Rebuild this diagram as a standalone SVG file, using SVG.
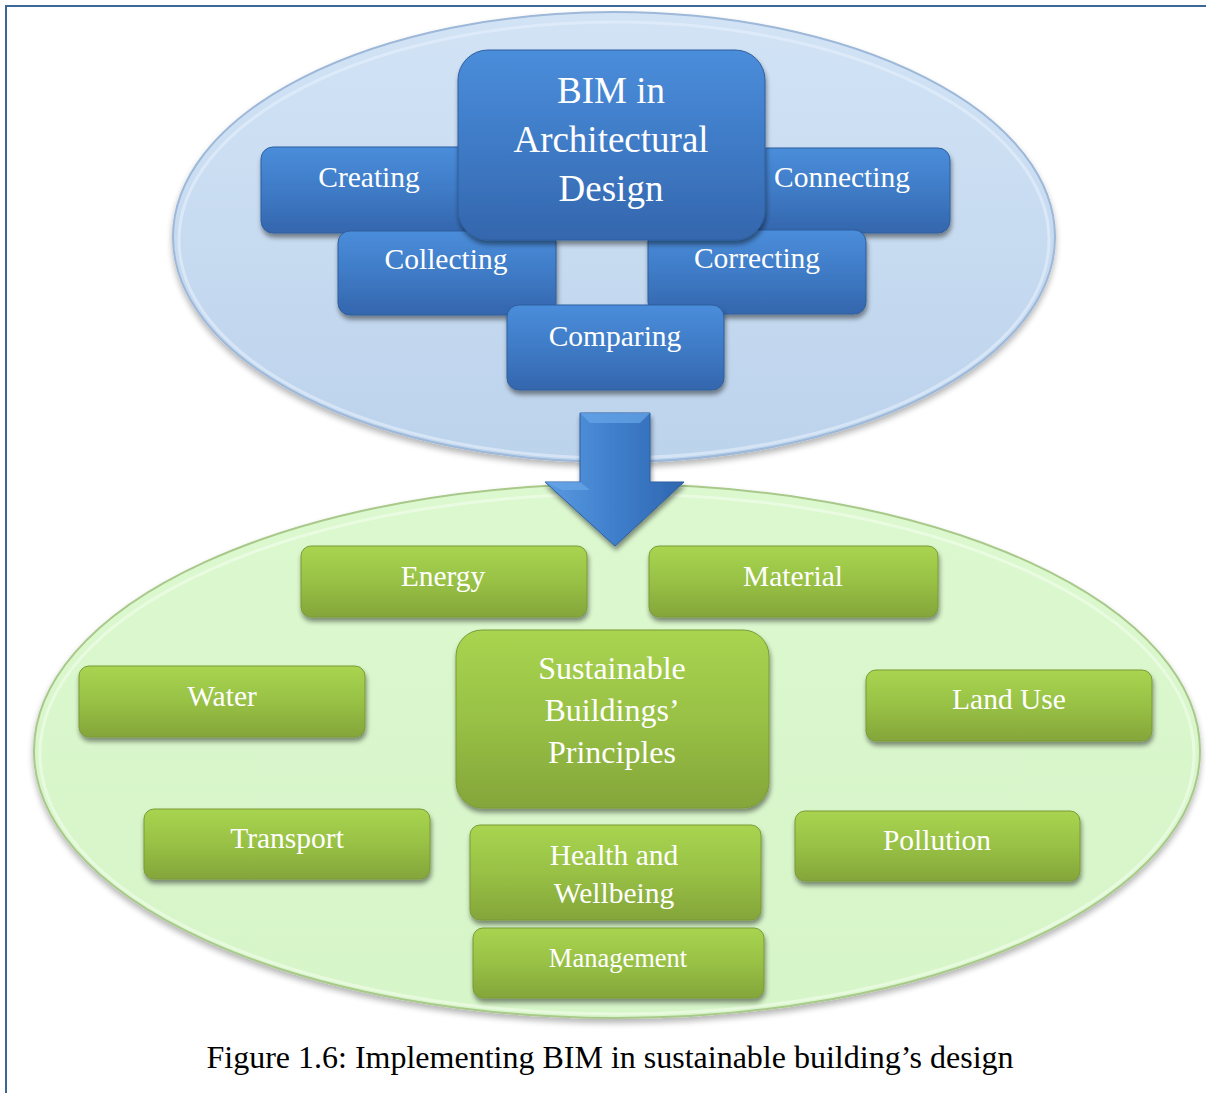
<svg xmlns="http://www.w3.org/2000/svg" width="1206" height="1093" viewBox="0 0 1206 1093">
<defs>
<linearGradient id="gBlue" x1="0" y1="0" x2="0" y2="1">
<stop offset="0" stop-color="#4a8ddb"/><stop offset="0.5" stop-color="#3f7bc6"/><stop offset="1" stop-color="#3466ad"/>
</linearGradient>
<linearGradient id="gGreen" x1="0" y1="0" x2="0" y2="1">
<stop offset="0" stop-color="#a9d450"/><stop offset="0.5" stop-color="#98c145"/><stop offset="1" stop-color="#84a53a"/>
</linearGradient>
<linearGradient id="gBlueEll" x1="0" y1="0" x2="0" y2="1">
<stop offset="0" stop-color="#d2e3f5"/><stop offset="1" stop-color="#bcd3ec"/>
</linearGradient>
<linearGradient id="gGreenEll" x1="0" y1="0" x2="0" y2="1">
<stop offset="0" stop-color="#dcf8cf"/><stop offset="1" stop-color="#d6f5c8"/>
</linearGradient>
<linearGradient id="gArrow" x1="0" y1="0" x2="1" y2="0">
<stop offset="0" stop-color="#5b9ae0"/><stop offset="0.5" stop-color="#3f7fcc"/><stop offset="1" stop-color="#2f66b0"/>
</linearGradient>
<filter id="sh" x="-10%" y="-10%" width="125%" height="135%">
<feGaussianBlur in="SourceAlpha" stdDeviation="2.5"/>
<feOffset dx="1" dy="4" result="o"/>
<feComponentTransfer><feFuncA type="linear" slope="0.45"/></feComponentTransfer>
<feMerge><feMergeNode/><feMergeNode in="SourceGraphic"/></feMerge>
</filter>
<filter id="shE" x="-5%" y="-5%" width="110%" height="115%">
<feGaussianBlur in="SourceAlpha" stdDeviation="3"/>
<feOffset dx="0" dy="4"/>
<feComponentTransfer><feFuncA type="linear" slope="0.3"/></feComponentTransfer>
<feMerge><feMergeNode/><feMergeNode in="SourceGraphic"/></feMerge>
</filter>
</defs>
<style>
.bb{fill:url(#gBlue);stroke:#2f5f9e;stroke-width:1;filter:url(#sh)}
.gb{fill:url(#gGreen);stroke:#7a9a35;stroke-width:1;filter:url(#sh)}
text{font-family:"Liberation Serif","Times New Roman",serif;fill:#ffffff;text-anchor:middle}
.t{font-size:29.5px}
.tb{font-size:37px}
.tg{font-size:32px}
.tm{font-size:26.5px}
.cap{font-size:32px;fill:#000000}
</style>
<rect x="0" y="0" width="1206" height="1093" fill="#ffffff"/>
<rect x="6" y="6" width="1210" height="1100" fill="none" stroke="#3e6699" stroke-width="2"/>

<g id="ellipse-bim">
<ellipse cx="614" cy="237" rx="441" ry="225" fill="url(#gBlueEll)" stroke="#9db8d8" stroke-width="2" filter="url(#shE)"/>
<ellipse cx="614" cy="240" rx="435" ry="218" fill="none" stroke="#e6f0fb" stroke-width="3" opacity="0.6"/>
</g>
<g id="ellipse-sustainable">
<ellipse cx="617" cy="751" rx="583" ry="267" fill="url(#gGreenEll)" stroke="#a8c98a" stroke-width="2" filter="url(#shE)"/>
<ellipse cx="617" cy="754" rx="577" ry="260" fill="none" stroke="#f2fdec" stroke-width="3" opacity="0.6"/>
</g>

<g id="node-creating">
<rect class="bb" x="261" y="147" width="212" height="86" rx="12"/>
<text class="t" x="369" y="187">Creating</text>
</g>
<g id="node-connecting">
<rect class="bb" x="755" y="148" width="195" height="85" rx="12"/>
<text class="t" x="842" y="187">Connecting</text>
</g>
<g id="node-collecting">
<rect class="bb" x="338" y="231" width="218" height="84" rx="12"/>
<text class="t" x="446" y="269">Collecting</text>
</g>
<g id="node-correcting">
<rect class="bb" x="648" y="230" width="218" height="84" rx="12"/>
<text class="t" x="757" y="268">Correcting</text>
</g>
<g id="node-bim">
<rect class="bb" x="458" y="50" width="307" height="190" rx="30"/>
<text class="tb" x="611" y="103">BIM in</text>
<text class="tb" x="611" y="152">Architectural</text>
<text class="tb" x="611" y="201">Design</text>
</g>
<g id="node-comparing">
<rect class="bb" x="507" y="305" width="217" height="85" rx="12"/>
<text class="t" x="615" y="346">Comparing</text>
</g>

<g id="connectors">
<polygon points="580,413 650,413 650,482 684,482 615,546 545,482 580,482" fill="url(#gArrow)" stroke="#2c5e9f" stroke-width="1" filter="url(#sh)"/>
<polygon points="580,413 650,413 640,423 590,423" fill="#6aa6e8" opacity="0.7"/>
<polygon points="545,482 580,482 590,490 562,490" fill="#6aa6e8" opacity="0.7"/>
</g>

<g id="node-energy">
<rect class="gb" x="301" y="546" width="286" height="71" rx="10"/>
<text class="t" x="443" y="586">Energy</text>
</g>
<g id="node-material">
<rect class="gb" x="649" y="546" width="289" height="71" rx="10"/>
<text class="t" x="793" y="586">Material</text>
</g>
<g id="node-water">
<rect class="gb" x="79" y="666" width="286" height="71" rx="10"/>
<text class="t" x="222" y="706">Water</text>
</g>
<g id="node-sustainable">
<rect class="gb" x="456" y="630" width="313" height="178" rx="26"/>
<text class="tg" x="612" y="679">Sustainable</text>
<text class="tg" x="612" y="721">Buildings’</text>
<text class="tg" x="612" y="763">Principles</text>
</g>
<g id="node-landuse">
<rect class="gb" x="866" y="670" width="286" height="71" rx="10"/>
<text class="t" x="1009" y="709">Land Use</text>
</g>
<g id="node-transport">
<rect class="gb" x="144" y="809" width="286" height="70" rx="10"/>
<text class="t" x="287" y="848">Transport</text>
</g>
<g id="node-health">
<rect class="gb" x="470" y="825" width="291" height="95" rx="10"/>
<text class="t" x="614" y="865">Health and</text>
<text class="t" x="614" y="903">Wellbeing</text>
</g>
<g id="node-pollution">
<rect class="gb" x="795" y="811" width="285" height="70" rx="10"/>
<text class="t" x="937" y="850">Pollution</text>
</g>
<g id="node-management">
<rect class="gb" x="473" y="928" width="291" height="70" rx="10"/>
<text class="tm" x="618" y="967">Management</text>
</g>

<text class="cap" x="610" y="1068">Figure 1.6: Implementing BIM in sustainable building’s design</text>
</svg>
